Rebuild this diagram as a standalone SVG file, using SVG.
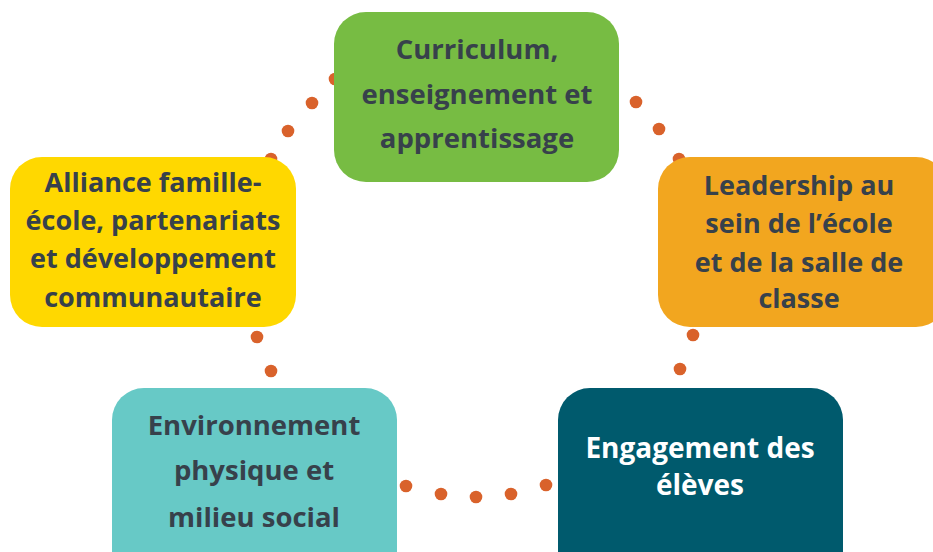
<svg xmlns="http://www.w3.org/2000/svg" width="933" height="552" viewBox="0 0 933 552">
<style>
.t{font-family:"Open Sans","Noto Sans","DejaVu Sans",sans-serif;font-weight:700;text-anchor:middle;fill:#37414b}
.big{font-size:27.5px}
.sm{font-size:27px}
.eng{font-size:28px;fill:#ffffff}
.dot{fill:#d9622b}
</style>
<g id="connectors">
<circle class="dot" cx="335" cy="79" r="6.3"/>
<circle class="dot" cx="312" cy="103" r="6.3"/>
<circle class="dot" cx="288" cy="131" r="6.3"/>
<circle class="dot" cx="271" cy="159" r="6.3"/>
<circle class="dot" cx="636" cy="102" r="6.3"/>
<circle class="dot" cx="659" cy="129" r="6.3"/>
<circle class="dot" cx="679" cy="159" r="6.3"/>
<circle class="dot" cx="257" cy="337" r="6.3"/>
<circle class="dot" cx="271" cy="371" r="6.3"/>
<circle class="dot" cx="693" cy="335" r="6.3"/>
<circle class="dot" cx="680" cy="369" r="6.3"/>
<circle class="dot" cx="406" cy="486" r="6.3"/>
<circle class="dot" cx="441" cy="494" r="6.3"/>
<circle class="dot" cx="476" cy="497" r="6.3"/>
<circle class="dot" cx="511" cy="494" r="6.3"/>
<circle class="dot" cx="546" cy="485" r="6.3"/>
</g>
<g id="curriculum">
<rect x="334" y="12" width="285" height="170" rx="32" fill="#77bc43"/>
<text class="t big" x="477" y="59">Curriculum,</text>
<text class="t big" x="477" y="104">enseignement et</text>
<text class="t big" x="477" y="148">apprentissage</text>
</g>
<g id="alliance">
<rect x="10" y="157" width="286" height="170" rx="32" fill="#ffd800"/>
<text class="t sm" x="153" y="192">Alliance famille-</text>
<text class="t sm" x="153" y="230">école, partenariats</text>
<text class="t sm" x="153" y="268">et développement</text>
<text class="t sm" x="153" y="307">communautaire</text>
</g>
<g id="leadership">
<rect x="658" y="157" width="290" height="170" rx="32" fill="#f2a61f"/>
<text class="t sm" x="799" y="195">Leadership au</text>
<text class="t sm" x="799" y="233">sein de l’école</text>
<text class="t sm" x="799" y="272">et de la salle de</text>
<text class="t sm" x="799" y="308">classe</text>
</g>
<g id="environnement">
<rect x="112" y="388" width="285" height="200" rx="32" fill="#67c9c6"/>
<text class="t big" x="254" y="435">Environnement</text>
<text class="t big" x="254" y="480">physique et</text>
<text class="t big" x="254" y="527">milieu social</text>
</g>
<g id="engagement">
<rect x="558" y="388" width="285" height="200" rx="32" fill="#005a6d"/>
<text class="t eng" x="700" y="458">Engagement des</text>
<text class="t eng" x="700" y="495">élèves</text>
</g>
</svg>
